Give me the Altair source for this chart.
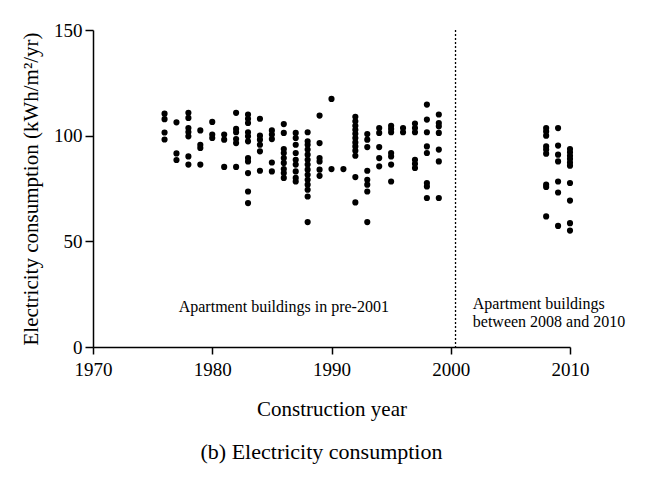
import altair as alt
import pandas as pd

years = [1976, 1977, 1978, 1979, 1980, 1981, 1982, 1983, 1984, 1985, 1986, 1987,
         1988, 1989, 1990, 1991, 1992, 1993, 1994, 1995, 1996, 1997, 1998, 1999,
         2008, 2009, 2010]
values = [
    [110.4, 107.8, 101.5, 98.2],
    [106.3, 91.6, 88.5],
    [110.8, 108.4, 103.6, 101.7, 99.7, 90.2, 86.3],
    [102.5, 95.7, 94.2, 86.3],
    [106.5, 100.5, 98.9],
    [100.5, 98.1, 85.2],
    [110.8, 103.2, 101.6, 98.4, 96.5, 85.2],
    [110.0, 108.0, 106.0, 101.6, 99.7, 97.3, 89.4, 87.8, 82.3, 73.6, 68.1],
    [108.0, 100.0, 98.1, 95.7, 92.6, 83.4],
    [102.5, 100.5, 98.4, 87.3, 83.1],
    [105.5, 101.3, 93.7, 91.8, 89.4, 87.1, 84.2, 82.3, 80.0],
    [101.3, 98.9, 95.7, 91.8, 88.6, 86.3, 83.1, 80.0, 78.3],
    [101.6, 97.3, 95.7, 93.4, 91.0, 88.6, 86.3, 83.9, 81.5, 79.1, 76.8, 74.4, 71.2, 59.1],
    [109.5, 96.5, 89.4, 87.8, 83.9, 81.0],
    [117.4, 84.2],
    [84.2],
    [108.9, 106.8, 104.7, 102.8, 100.9, 98.9, 96.8, 94.9, 92.9, 90.5, 80.4, 68.4],
    [100.8, 98.1, 94.6, 83.4, 79.1, 76.8, 73.6, 59.1],
    [103.6, 101.3, 94.6, 89.4, 85.5],
    [104.7, 103.2, 101.6, 91.8, 90.2, 86.3, 78.3],
    [103.6, 101.6],
    [105.7, 103.6, 101.6, 88.6, 86.7, 84.7],
    [114.7, 107.6, 101.6, 94.9, 91.8, 77.6, 76.0, 70.5],
    [110.0, 106.0, 104.4, 101.3, 93.4, 87.8, 70.5],
    [103.6, 102.0, 100.0, 94.9, 93.4, 91.5, 76.8, 75.7, 61.8],
    [103.6, 95.3, 91.0, 87.8, 78.3, 73.1, 57.3],
    [93.7, 92.1, 90.5, 89.0, 87.3, 85.8, 77.6, 69.3, 58.6, 55.1],
]
x_ticks = [1970, 1980, 1990, 2000, 2010]
y_ticks = [0, 50, 100, 150]
divider_year = 2000.4
label_left = "Apartment buildings in pre-2001"
label_right = ["Apartment buildings", "between 2008 and 2010"]
x_title = "Construction year"
y_title = "Electricity consumption (kWh/m\u00b2/yr)"
caption = "(b) Electricity consumption"

rows = [{"year": yr, "value": v} for yr, vs in zip(years, values) for v in vs]
df = pd.DataFrame(rows)

FONT = "Liberation Serif"

xscale = alt.Scale(domain=[1970, 2010], nice=False, zero=False)
yscale = alt.Scale(domain=[0, 150], nice=False)

xaxis = alt.Axis(values=x_ticks, format="d", grid=False, title=x_title,
                 domainColor="black", domainWidth=1.5, tickColor="black",
                 tickWidth=1.5, tickSize=7, labelFont=FONT, labelFontSize=19,
                 labelColor="black", labelPadding=6, titleFont=FONT,
                 titleFontSize=21, titleFontWeight="normal", titleColor="black",
                 titlePadding=19, labelFlush=False)
yaxis = alt.Axis(values=y_ticks, grid=False, title=y_title,
                 domainColor="black", domainWidth=1.5, tickColor="black",
                 tickWidth=1.5, tickSize=8, labelFont=FONT, labelFontSize=19,
                 labelColor="black", labelPadding=3, titleFont=FONT,
                 titleFontSize=21, titleFontWeight="normal", titleColor="black",
                 titlePadding=12, labelFlush=False)

points = alt.Chart(df).mark_circle(size=38, color="black", opacity=1).encode(
    x=alt.X("year:Q", scale=xscale, axis=xaxis),
    y=alt.Y("value:Q", scale=yscale, axis=yaxis),
)

divider = alt.Chart(pd.DataFrame({"year": [divider_year]})).mark_rule(
    color="black", strokeDash=[2, 2], strokeWidth=1.3
).encode(x=alt.X("year:Q", scale=xscale))

text_left = alt.Chart(pd.DataFrame({"t": [label_left]})).mark_text(
    font=FONT, fontSize=16, color="black", align="center", baseline="alphabetic"
).encode(x=alt.datum(1986.0, scale=xscale), y=alt.datum(16.6, scale=yscale), text="t:N")

text_right = alt.Chart(pd.DataFrame({"t": [label_right]})).mark_text(
    font=FONT, fontSize=16, color="black", align="left", baseline="alphabetic",
    lineHeight=18
).encode(x=alt.datum(2001.85, scale=xscale), y=alt.datum(18.0, scale=yscale), text="t:N")

chart = alt.layer(points, divider, text_left, text_right).properties(
    width=477, height=317,
    autosize=alt.AutoSizeParams(type="none"),
    padding={"left": 85, "top": 22, "right": 78, "bottom": 129},
    title=alt.TitleParams(caption, orient="bottom", font=FONT, fontSize=22,
                          fontWeight="normal", color="black", offset=23, dx=-10),
).configure(background="white").configure_view(stroke=None, strokeWidth=0)

chart.save("out.html", embed_options={"renderer": "svg", "actions": False})
